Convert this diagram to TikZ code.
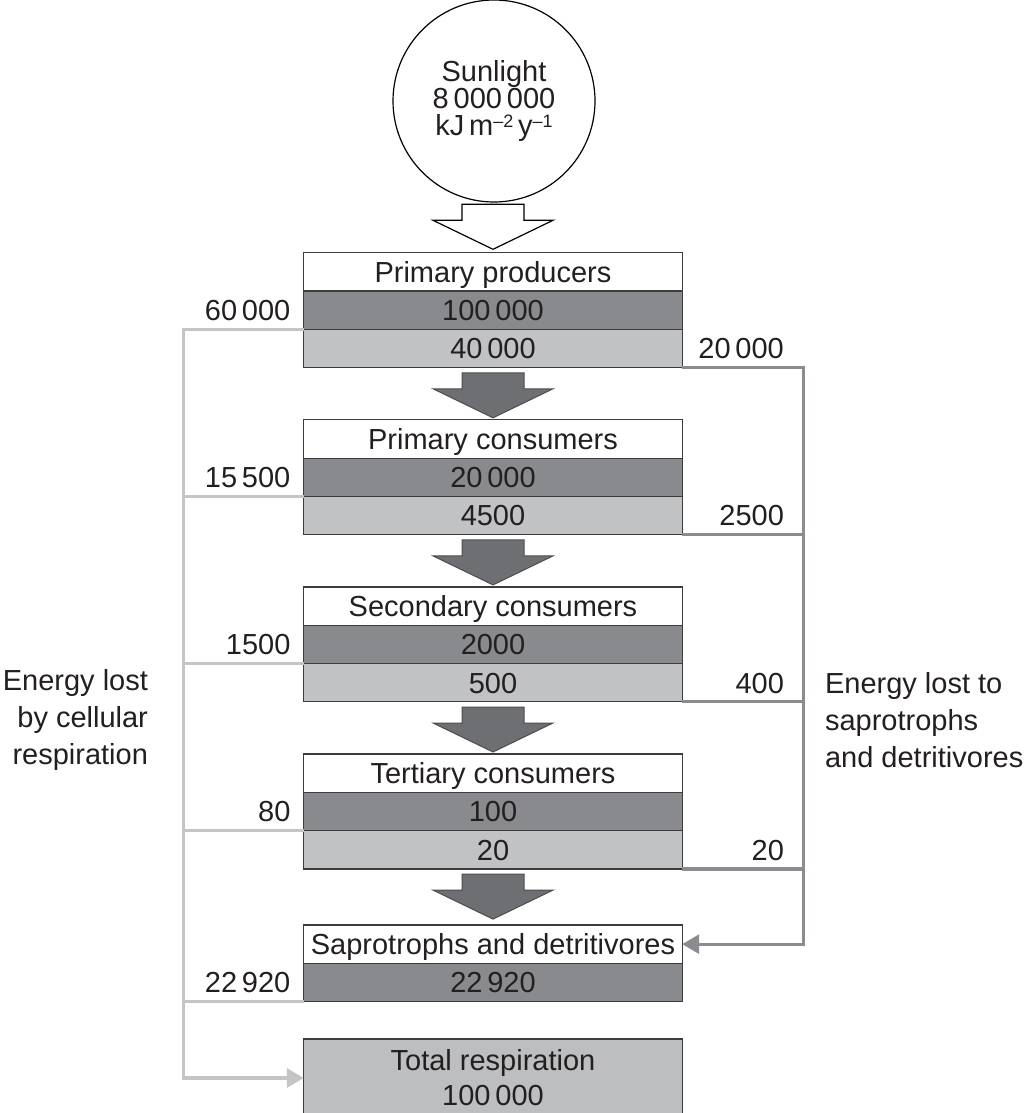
\documentclass[tikz,border=0pt]{standalone}
\usepackage{fontspec}
\setmainfont{Liberation Sans}
\usetikzlibrary{arrows.meta,positioning}
\definecolor{inkgray}{HTML}{231F20}
\definecolor{darkrow}{HTML}{898A8D}
\definecolor{lightrow}{HTML}{C1C2C4}
\definecolor{totalfill}{HTML}{BDBEC0}
\definecolor{arrowfill}{HTML}{6E6F72}
\definecolor{arrowline}{HTML}{4D4D4F}
\definecolor{resplinecol}{HTML}{C4C5C7}
\definecolor{decaylinecol}{HTML}{8B8C8F}
\definecolor{boxline}{HTML}{3C3C3C}
\newcommand{\unitexp}[1]{\raisebox{0.55ex}{\fontsize{9}{9}\selectfont #1}}
\tikzset{
	every node/.style={font=\fontsize{14.5}{17.4}\selectfont, text=inkgray},
	cell/.style={
			draw=boxline, line width=0.6pt,
			minimum width=189.2pt, minimum height=19.15pt,
			inner sep=0pt, outer sep=0pt,
			text height=12.4pt, text depth=2pt,
			anchor=north,
		},
	namerow/.style={cell, fill=white},
	highrow/.style={cell, fill=darkrow},
	lowrow/.style={cell, fill=lightrow},
	amount/.style={anchor=east, inner sep=0pt, text height=12.4pt, text depth=2pt},
	lossline/.style={draw=resplinecol, line width=1.6pt},
	decayline/.style={draw=decaylinecol, line width=1.6pt},
	tip/.style={-{Triangle[length=8.5pt,width=9.5pt]}},
	pics/bigarrow/.style={code={
				\path[#1] (-31,0) -- (31,0) -- (31,16) -- (60,16) -- (0,45)
				-- (-60,16) -- (-31,16) -- cycle;
			}},
}

\begin{document}
\begin{tikzpicture}[x=0.5pt, y=-0.5pt]
	\useasboundingbox (0,0) rectangle (1023,1113);
	\clip (0,0) rectangle (1023,1113);

	% Buses for the two kinds of losses
	\coordinate (lbus) at (183.3,0);
	\coordinate (rbus) at (803.3,0);

	% Source of energy
	\node[circle, draw=black, line width=0.6pt, minimum size=101pt, inner sep=0pt,
		align=center, font=\fontsize{14.5}{13.5}\selectfont] (sun) at (494,101)
		{Sunlight\\8\,000\,000\\kJ\,m\unitexp{–2}\,y\unitexp{–1}};
	\pic at (493,204.3) {bigarrow={fill=white, draw=black, line width=0.6pt}};

	% Trophic levels
	\foreach \name/\high/\low/\lost/\decay [count=\i] in {
			Primary producers/100\,000/40\,000/60\,000/20\,000,
			Primary consumers/20\,000/4500/15\,500/2500,
			Secondary consumers/2000/500/1500/400,
			Tertiary consumers/100/20/80/20}
		{
			\pgfmathsetmacro\rowy{252.7+167.1*(\i-1)}
			\node[namerow] (t\i) at (493,\rowy) {\name};
			\node[highrow] (e\i) at (t\i.south) {\high};
			\node[lowrow] (p\i) at (e\i.south) {\low};
			\node[amount, xshift=-6.5pt] (r\i) at (e\i.west) {\lost};
			\node[amount, xshift=-9.5pt] (d\i) at (p\i.center -| rbus) {\decay};
			\draw[lossline] (e\i.south west) -- (e\i.south west -| lbus);
			\draw[decayline] (p\i.south east) -- (p\i.south east -| rbus);
			\pic at ([yshift=-2.6pt]p\i.south) {bigarrow={fill=arrowfill, draw=arrowline, line width=0.5pt}};
		}

	% Decomposers
	\node[namerow] (s1) at (493,925) {Saprotrophs and detritivores};
	\node[highrow] (s2) at (s1.south) {22\,920};
	\node[amount, xshift=-6.5pt] (rs) at (s2.west) {22\,920};
	\draw[lossline] (s2.south west) -- (s2.south west -| lbus);

	% Total respiration
	\node[draw=boxline, line width=0.6pt, fill=totalfill, minimum width=189.2pt,
		minimum height=39pt, inner sep=0pt, outer sep=0pt, anchor=north, align=center,
		font=\fontsize{14.5}{17.5}\selectfont] (total) at (493,1039)
		{Total respiration\\100\,000};

	% Loss paths
	\draw[lossline, tip] (e1.south west) -- (e1.south west -| lbus) |- (total.west);
	\draw[decayline, tip] (p1.south east) -- (p1.south east -| rbus) |- (s1.east);

	% Side captions
	\node[anchor=east, align=right, font=\fontsize{14.5}{18.5}\selectfont] (cellresp)
		at (155,720) {Energy lost\\by cellular\\respiration};
	\node[anchor=west, align=left, font=\fontsize{14.5}{18.5}\selectfont] (saproloss)
		at (818,720) {Energy lost to\\saprotrophs\\and detritivores};
\end{tikzpicture}
\end{document}
